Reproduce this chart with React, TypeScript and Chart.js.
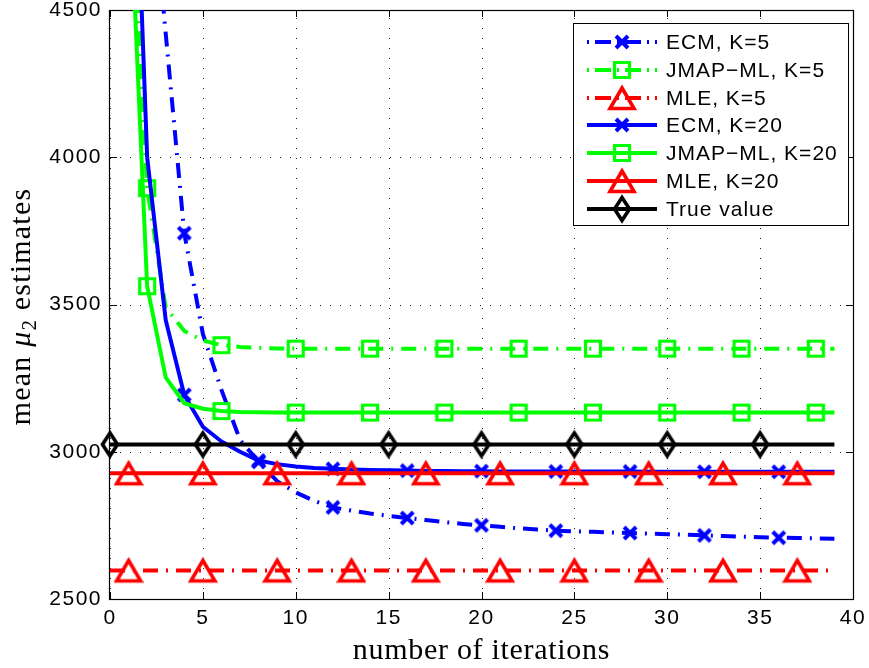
import React, { useEffect, useRef } from 'react';
import { Chart, registerables } from 'chart.js';

Chart.register(...registerables);

// ---------- data ----------
const iterations = [0, 1, 2, 3, 4, 5, 6, 7, 8, 9, 10, 11, 12, 13, 14, 15, 16, 17, 18, 19, 20, 21, 22, 23, 24, 25, 26, 27, 28, 29, 30, 31, 32, 33, 34, 35, 36, 37, 38, 39];

const ecmK5 = [null, 7000, 5100, 4420, 3742, 3400, 3210, 3040, 2966, 2900, 2862, 2833, 2811, 2800, 2790, 2782, 2775, 2768, 2761, 2755, 2750, 2745, 2740, 2736, 2732, 2730, 2728, 2726, 2724, 2722, 2720, 2718, 2716, 2714, 2712, 2710, 2708, 2707, 2706, 2705];
const jmapK5 = [null, 5100, 3895, 3490, 3410, 3378, 3362, 3356, 3353, 3351, 3350, 3350, 3350, 3350, 3350, 3350, 3350, 3350, 3350, 3350, 3350, 3350, 3350, 3350, 3350, 3350, 3350, 3350, 3350, 3350, 3350, 3350, 3350, 3350, 3350, 3350, 3350, 3350, 3350, 3350];
const mleK5 = [2597, 2597, 2597, 2597, 2597, 2597, 2597, 2597, 2597, 2597, 2597, 2597, 2597, 2597, 2597, 2597, 2597, 2597, 2597, 2597, 2597, 2597, 2597, 2597, 2597, 2597, 2597, 2597, 2597, 2597, 2597, 2597, 2597, 2597, 2597, 2597, 2597, 2597, 2597, 2597];
const ecmK20 = [null, 5700, 4000, 3447, 3193, 3085, 3035, 3000, 2970, 2958, 2950, 2945, 2942, 2940, 2938, 2937, 2936, 2935, 2935, 2934, 2934, 2933, 2933, 2933, 2933, 2933, 2933, 2933, 2933, 2932, 2932, 2932, 2932, 2932, 2932, 2932, 2932, 2932, 2932, 2932];
const jmapK20 = [null, 5000, 3562, 3252, 3165, 3146, 3138, 3135, 3134, 3133, 3133, 3133, 3133, 3133, 3133, 3133, 3133, 3133, 3133, 3133, 3133, 3133, 3133, 3133, 3133, 3133, 3133, 3133, 3133, 3133, 3133, 3133, 3133, 3133, 3133, 3133, 3133, 3133, 3133, 3133];
const mleK20 = [2927, 2927, 2927, 2927, 2927, 2927, 2927, 2927, 2927, 2927, 2927, 2927, 2927, 2927, 2927, 2927, 2927, 2927, 2927, 2927, 2927, 2927, 2927, 2927, 2927, 2927, 2927, 2927, 2927, 2927, 2927, 2927, 2927, 2927, 2927, 2927, 2927, 2927, 2927, 2927];
const trueValue = [3025, 3025, 3025, 3025, 3025, 3025, 3025, 3025, 3025, 3025, 3025, 3025, 3025, 3025, 3025, 3025, 3025, 3025, 3025, 3025, 3025, 3025, 3025, 3025, 3025, 3025, 3025, 3025, 3025, 3025, 3025, 3025, 3025, 3025, 3025, 3025, 3025, 3025, 3025, 3025];

const ecmMarkers = [4, 8, 12, 16, 20, 24, 28, 32, 36];
const jmapMarkers = [2, 6, 10, 14, 18, 22, 26, 30, 34, 38];
const mleMarkers = [1, 5, 9, 13, 17, 21, 25, 29, 33, 37];
const trueMarkers = [0, 5, 10, 15, 20, 25, 30, 35];

const seriesLabels = ['ECM, K=5', 'JMAP\u2212ML, K=5', 'MLE, K=5', 'ECM, K=20', 'JMAP\u2212ML, K=20', 'MLE, K=20', 'True value'];

const xTickValues = [0, 5, 10, 15, 20, 25, 30, 35, 40];
const xTickLabels = ['0', '5', '10', '15', '20', '25', '30', '35', '40'];
const yTickValues = [2500, 3000, 3500, 4000, 4500];
const yTickLabels = ['2500', '3000', '3500', '4000', '4500'];

const xTitle = 'number of iterations';
const yTitleParts = ['mean ', '\u03bc', '2', ' estimates'];

// ---------- styles ----------
const SANS = '"Liberation Sans", Arial, Helvetica, sans-serif';
const SERIF = '"Liberation Serif", "Times New Roman", serif';
const DASHDOT = [15, 8, 2, 8];
const BLUE = '#0000ff';
const GREEN = '#00ff00';
const RED = '#ff0000';
const BLACK = '#000000';
const LINE_W = 4;

function makeMarker(kind: string, color: string): HTMLCanvasElement {
  const c = document.createElement('canvas');
  const dims: Record<string, [number, number]> = {
    cross: [20, 20],
    square: [20, 20],
    triangle: [30, 28],
    diamond: [24, 36],
  };
  const [w, h] = dims[kind];
  c.width = w;
  c.height = h;
  const ctx = c.getContext('2d')!;
  ctx.strokeStyle = color;
  ctx.lineJoin = 'miter';
  ctx.lineCap = 'butt';
  ctx.beginPath();
  if (kind === 'cross') {
    ctx.lineWidth = 4;
    ctx.moveTo(4, 4);
    ctx.lineTo(16, 16);
    ctx.moveTo(16, 4);
    ctx.lineTo(4, 16);
  } else if (kind === 'square') {
    ctx.lineWidth = 3.2;
    ctx.rect(2.5, 2.5, 15, 15);
  } else if (kind === 'triangle') {
    ctx.lineWidth = 3.6;
    ctx.moveTo(15, 4);
    ctx.lineTo(27, 24.5);
    ctx.lineTo(3, 24.5);
    ctx.closePath();
  } else {
    ctx.lineWidth = 3.6;
    ctx.moveTo(12, 6.5);
    ctx.lineTo(19.5, 18);
    ctx.lineTo(12, 29.5);
    ctx.lineTo(4.5, 18);
    ctx.closePath();
  }
  ctx.stroke();
  return c;
}

export default function App() {
  const ref = useRef<HTMLCanvasElement>(null);

  useEffect(() => {
    document.body.style.margin = '0';
    const canvas = ref.current!;

    const series = [
      { values: ecmK5, color: BLUE, dash: DASHDOT, marker: makeMarker('cross', BLUE), markers: ecmMarkers },
      { values: jmapK5, color: GREEN, dash: DASHDOT, marker: makeMarker('square', GREEN), markers: jmapMarkers },
      { values: mleK5, color: RED, dash: DASHDOT, marker: makeMarker('triangle', RED), markers: mleMarkers },
      { values: ecmK20, color: BLUE, dash: [], marker: makeMarker('cross', BLUE), markers: ecmMarkers },
      { values: jmapK20, color: GREEN, dash: [], marker: makeMarker('square', GREEN), markers: jmapMarkers },
      { values: mleK20, color: RED, dash: [], marker: makeMarker('triangle', RED), markers: mleMarkers },
      { values: trueValue, color: BLACK, dash: [], marker: makeMarker('diamond', BLACK), markers: trueMarkers },
    ];

    const framePlugin = {
      id: 'matlabFrame',
      beforeDraw(chart: any) {
        // wider tick lettering like the original export
        (chart.ctx as any).letterSpacing = '1.5px';
      },
      beforeDatasetsDraw(chart: any) {
        const { ctx, chartArea: a, scales } = chart;
        (ctx as any).letterSpacing = '0px';
        const xs = scales.x;
        const ys = scales.y;
        ctx.save();
        // dotted grid
        ctx.strokeStyle = '#222';
        ctx.lineWidth = 1;
        ctx.setLineDash([1, 9]);
        xTickValues.forEach((v) => {
          const px = Math.round(xs.getPixelForValue(v)) + 0.5;
          ctx.beginPath();
          ctx.moveTo(px, a.bottom);
          ctx.lineTo(px, a.top);
          ctx.stroke();
        });
        yTickValues.forEach((v) => {
          const py = Math.round(ys.getPixelForValue(v)) + 0.5;
          ctx.beginPath();
          ctx.moveTo(a.left, py);
          ctx.lineTo(a.right, py);
          ctx.stroke();
        });
        ctx.setLineDash([]);
        ctx.strokeStyle = '#000';
        // inward ticks on all sides
        const tl = 7;
        xTickValues.forEach((v) => {
          const px = Math.round(xs.getPixelForValue(v)) + 0.5;
          ctx.beginPath();
          ctx.moveTo(px, a.bottom);
          ctx.lineTo(px, a.bottom - tl);
          ctx.moveTo(px, a.top);
          ctx.lineTo(px, a.top + tl);
          ctx.stroke();
        });
        yTickValues.forEach((v) => {
          const py = Math.round(ys.getPixelForValue(v)) + 0.5;
          ctx.beginPath();
          ctx.moveTo(a.left, py);
          ctx.lineTo(a.left + tl, py);
          ctx.moveTo(a.right, py);
          ctx.lineTo(a.right - tl, py);
          ctx.stroke();
        });
        // frame
        ctx.lineWidth = 1.2;
        ctx.strokeRect(Math.round(a.left) - 0.5, Math.round(a.top) + 0.5, Math.round(a.right - a.left) + 1, Math.round(a.bottom - a.top));
        ctx.restore();
      },
      afterDraw(chart: any) {
        const { ctx, chartArea: a } = chart;
        ctx.save();
        // x title
        ctx.fillStyle = '#000';
        ctx.font = `30px ${SERIF}`;
        (ctx as any).letterSpacing = '0.7px';
        ctx.textAlign = 'center';
        ctx.textBaseline = 'alphabetic';
        ctx.fillText(xTitle, (a.left + a.right) / 2, 658.5);

        // y title (rotated, with italic mu and subscript 2)
        const fonts = [`30px ${SERIF}`, `italic 30px ${SERIF}`, `21px ${SERIF}`, `30px ${SERIF}`];
        const dys = [0, 0, 6, 0];
        (ctx as any).letterSpacing = '1.2px';
        const widths = yTitleParts.map((t, i) => {
          ctx.font = fonts[i];
          return ctx.measureText(t).width;
        });
        const total = widths.reduce((s, w) => s + w, 0);
        ctx.translate(30, (a.top + a.bottom) / 2 + 2);
        ctx.rotate(-Math.PI / 2);
        ctx.textAlign = 'left';
        let cx = -total / 2;
        yTitleParts.forEach((t, i) => {
          ctx.font = fonts[i];
          ctx.fillText(t, cx, dys[i]);
          cx += widths[i];
        });
        ctx.restore();

        // legend
        ctx.save();
        (ctx as any).letterSpacing = '0px';
        const lx = 573.5, ly = 23.5, lw = 275, lh = 202;
        ctx.fillStyle = '#fff';
        ctx.fillRect(lx, ly, lw, lh);
        ctx.strokeStyle = '#000';
        ctx.lineWidth = 1;
        ctx.strokeRect(lx, ly, lw, lh);
        series.forEach((s, i) => {
          const y = Math.round(41.7 + 27.9 * i);
          ctx.strokeStyle = s.color;
          ctx.lineWidth = LINE_W;
          ctx.lineCap = 'butt';
          ctx.setLineDash(s.dash.length ? [16, 6, 2, 6] : []);
          ctx.lineDashOffset = s.dash.length ? -8 : 0;
          ctx.beginPath();
          ctx.moveTo(587, y);
          ctx.lineTo(657, y);
          ctx.stroke();
          ctx.setLineDash([]);
          const m = s.marker;
          ctx.drawImage(m, Math.round(622 - m.width / 2), Math.round(y - m.height / 2));
          ctx.fillStyle = '#000';
          ctx.font = `21px ${SANS}`;
          (ctx as any).letterSpacing = '1px';
          ctx.textAlign = 'left';
          ctx.textBaseline = 'middle';
          ctx.fillText(seriesLabels[i], 666, y + 1);
          (ctx as any).letterSpacing = '0px';
        });
        ctx.restore();
      },
    };

    const chart = new Chart(canvas, {
      type: 'line',
      data: {
        datasets: series.map((s, i) => ({
          label: seriesLabels[i],
          data: iterations
            .map((x, j) => ({ x, y: s.values[j] }))
            .filter((p) => p.y !== null),
          borderColor: s.color,
          backgroundColor: s.color,
          borderWidth: LINE_W,
          borderDash: s.dash,
          borderCapStyle: 'butt',
          borderJoinStyle: 'miter',
          tension: 0,
          fill: false,
          pointStyle: s.marker,
          pointRadius: (c: any) => (c.raw && s.markers.includes(c.raw.x) ? 6 : 0),
          pointHoverRadius: 0,
          pointHitRadius: 0,
          clip: { left: 20, top: 0, right: 20, bottom: 20 },
          order: series.length - i,
        })) as any,
      },
      options: {
        animation: false,
        responsive: false,
        events: [],
        layout: { padding: { left: 0, right: 16, top: 10, bottom: 0 } },
        plugins: {
          legend: { display: false },
          tooltip: { enabled: false },
        },
        scales: {
          x: {
            type: 'linear',
            min: 0,
            max: 40,
            afterBuildTicks: (s: any) => {
              s.ticks = xTickValues.map((v) => ({ value: v }));
            },
            ticks: {
              color: '#000',
              font: { family: SANS, size: 21 },
              padding: 7,
              maxRotation: 0,
              autoSkip: false,
              callback: (_v: any, i: number) => xTickLabels[i],
            },
            grid: { display: false, drawTicks: false },
            border: { display: false },
            afterFit: (s: any) => {
              s.height = 69;
              s.paddingLeft = 0;
              s.paddingRight = 0;
            },
          },
          y: {
            type: 'linear',
            min: 2500,
            max: 4500,
            afterBuildTicks: (s: any) => {
              s.ticks = yTickValues.map((v) => ({ value: v }));
            },
            ticks: {
              color: '#000',
              font: { family: SANS, size: 21 },
              padding: 8,
              autoSkip: false,
              callback: (_v: any, i: number) => yTickLabels[i],
            },
            grid: { display: false, drawTicks: false },
            border: { display: false },
            afterFit: (s: any) => {
              s.width = 110;
              s.paddingTop = 0;
              s.paddingBottom = 0;
            },
          },
        },
      } as any,
      plugins: [framePlugin],
    });

    return () => chart.destroy();
  }, []);

  return <canvas ref={ref} width={869} height={668} style={{ display: 'block' }} />;
}
